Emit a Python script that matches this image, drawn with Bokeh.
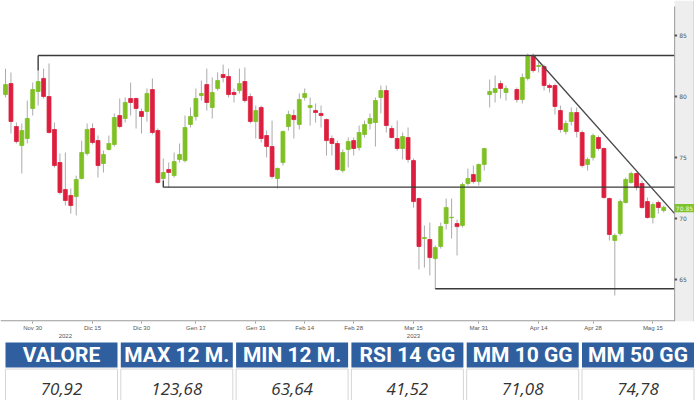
from bokeh.plotting import figure
from bokeh.models import Range1d, LinearAxis, FixedTicker, ColumnDataSource
from bokeh.layouts import column
from bokeh.embed import file_html
from bokeh.resources import INLINE
from bokeh.core.properties import value

# ---- data (trading-day slots; slot 93 has no session) ----
day_index = list(range(0, 93)) + list(range(94, 122))
opens = [80.16, 81.06, 77.54, 75.98, 76.56, 79.02, 80.41, 81.48, 80.00, 77.30,
         74.59, 72.38, 71.89, 71.80, 73.28, 75.33, 77.38, 76.39, 74.51, 75.66,
         76.07, 78.44, 78.20, 79.84, 79.84, 78.77, 78.77, 80.57, 77.21, 73.28,
         74.02, 73.52, 74.84, 74.75, 77.71, 78.36, 80.08, 80.98, 79.10, 80.66,
         81.80, 81.64, 80.33, 80.49, 81.23, 80.00, 77.95, 79.10, 76.80, 75.90,
         73.28, 74.59, 77.54, 78.44, 77.71, 79.92, 79.10, 78.85, 78.61, 78.11,
         76.56, 76.15, 73.93, 75.66, 76.39, 75.82, 76.89, 77.79, 77.87, 79.92,
         80.49, 77.38, 76.56, 75.74, 76.64, 74.75, 71.64, 68.36, 68.28, 66.72,
         67.71, 69.59, 70.07, 69.59, 69.43, 72.87, 73.61, 73.03, 74.43, 80.16,
         80.33, 81.06, 80.33,
         80.57, 79.75, 81.48, 83.36, 82.46, 82.46, 80.90, 80.90, 78.85, 77.13,
         77.95, 78.69, 77.05, 74.43, 75.00, 76.64, 75.74, 71.64, 68.20, 68.77,
         71.31, 72.95, 73.69, 72.87, 71.39, 70.08, 71.31, 70.66]
highs = [82.29, 81.97, 77.87, 77.79, 79.67, 81.15, 82.13, 82.29, 82.71, 77.87,
         75.33, 75.41, 72.46, 73.52, 76.39, 77.79, 77.79, 76.80, 75.57, 76.80,
         78.61, 79.84, 79.92, 81.15, 79.92, 79.02, 80.66, 81.48, 77.38, 74.92,
         74.59, 75.41, 76.15, 78.44, 79.10, 80.66, 81.31, 82.29, 81.56, 81.97,
         82.62, 82.29, 80.66, 82.29, 82.38, 80.25, 79.26, 79.26, 77.21, 78.03,
         74.18, 77.21, 78.85, 78.93, 80.25, 80.66, 79.92, 79.43, 79.26, 78.20,
         76.80, 76.39, 75.66, 76.64, 76.64, 77.62, 78.03, 78.61, 79.92, 80.90,
         80.90, 77.62, 78.03, 77.05, 77.46, 74.92, 71.72, 69.43, 69.67, 67.79,
         69.67, 71.64, 71.64, 69.92, 72.95, 74.10, 74.34, 74.51, 75.80, 81.39,
         81.72, 81.31, 80.90,
         80.74, 81.88, 83.52, 83.52, 82.87, 82.62, 81.06, 81.06, 79.26, 78.03,
         79.10, 79.10, 77.21, 75.00, 76.97, 76.80, 75.82, 71.72, 68.77, 71.56,
         73.36, 73.85, 73.77, 73.11, 71.72, 71.31, 71.48, 71.07]
lows = [79.92, 76.97, 76.15, 73.69, 76.15, 78.44, 79.26, 79.84, 76.97, 74.18,
        71.97, 71.07, 70.41, 70.25, 73.20, 75.16, 76.07, 73.36, 73.77, 75.57,
        75.90, 77.38, 77.87, 78.44, 77.38, 76.97, 77.95, 76.89, 72.87, 73.11,
        72.54, 73.36, 74.59, 74.59, 77.46, 78.03, 79.67, 78.85, 78.20, 80.49,
        81.15, 79.92, 79.51, 80.25, 79.51, 77.79, 76.56, 76.23, 75.00, 73.28,
        72.46, 74.34, 77.21, 76.56, 77.30, 79.67, 77.62, 77.87, 77.46, 75.16,
        75.16, 73.93, 73.77, 74.18, 75.16, 75.57, 76.64, 77.30, 75.90, 78.61,
        77.05, 76.56, 75.57, 74.84, 74.59, 70.90, 65.82, 65.98, 65.33, 64.26,
        67.54, 69.10, 68.36, 66.97, 69.26, 72.71, 72.87, 72.71, 73.93, 79.10,
        79.51, 79.84, 79.67,
        79.51, 79.43, 81.31, 81.97, 81.97, 80.49, 80.33, 78.52, 77.05, 76.89,
        77.62, 76.64, 74.18, 73.93, 74.75, 75.57, 71.64, 68.20, 63.69, 68.61,
        71.23, 72.87, 72.30, 70.82, 70.00, 69.59, 70.41, 70.49]
closes = [80.98, 77.95, 76.31, 77.21, 78.20, 80.57, 81.23, 80.00, 77.05, 74.34,
          72.13, 71.48, 71.07, 73.20, 75.41, 77.30, 76.23, 74.34, 75.25, 76.15,
          78.28, 77.54, 79.51, 79.51, 79.02, 78.36, 80.25, 77.05, 72.95, 73.77,
          73.77, 74.67, 75.25, 77.46, 78.36, 79.84, 80.25, 79.51, 80.33, 81.31,
          81.56, 80.16, 80.16, 81.06, 79.67, 77.95, 78.85, 76.56, 75.90, 73.44,
          74.10, 77.13, 78.52, 78.11, 79.75, 80.25, 79.26, 78.69, 78.44, 76.39,
          76.15, 74.02, 75.41, 76.31, 75.74, 77.05, 77.71, 78.20, 79.67, 80.49,
          77.62, 76.64, 75.74, 76.72, 74.84, 71.39, 67.71, 68.44, 66.80, 67.62,
          69.34, 70.90, 70.10, 69.34, 72.79, 73.28, 73.03, 74.43, 75.74, 80.41,
          80.66, 80.66, 80.66,
          79.75, 81.56, 83.28, 82.13, 82.54, 80.90, 80.74, 79.18, 77.30, 77.79,
          78.69, 77.13, 74.34, 74.84, 76.80, 75.74, 71.72, 68.69, 68.61, 71.39,
          73.20, 73.69, 72.54, 70.90, 70.08, 71.15, 70.90, 70.92]

# support / resistance levels: (start slot, level, anchor price)
level_start = [6, 29, 79]
level_value = [83.36, 72.57, 64.24]
level_anchor = [82.13, 73.11, 64.26]
# descending trend line
trend_x = [97, 123]
trend_y = [83.40, 70.40]

last_price = 70.85
last_price_label = "70.85"

x_tick_pos = [5, 16, 25, 35, 46, 55, 64, 75, 87, 98, 108, 119]
x_tick_labels = ["Nov 30", "Dic 15", "Dic 30", "Gen 17", "Gen 31", "Feb 14",
                 "Feb 28", "Mar 15", "Mar 31", "Apr 14", "Apr 28", "Mag 15"]
year_pos = [11, 75]
year_labels = ["2022", "2023"]
y_ticks = [65, 70, 75, 80, 85]

headers = ["VALORE", "MAX 12 M.", "MIN 12 M.", "RSI 14 GG", "MM 10 GG", "MM 50 GG"]
values = ["70,92", "123,68", "63,64", "41,52", "71,08", "74,78"]

# ---- chart ----
UP = "#7fc025"
DOWN = "#dc1f3e"
colors = [UP if c >= o else DOWN for o, c in zip(opens, closes)]
src = ColumnDataSource(dict(
    x=day_index, high=highs, low=lows,
    top=[max(o, c) for o, c in zip(opens, closes)],
    bottom=[min(o, c) for o, c in zip(opens, closes)],
    color=colors))

x_start = -0.92
x_end = 123.0          # right edge of the price area (price scale sits here)
x_max = 126.65
y_lo, y_hi = 61.56, 87.87
p = figure(width=694, height=340, x_range=Range1d(x_start, x_max),
           y_range=Range1d(y_lo, y_hi), output_backend="svg",
           toolbar_location=None, y_axis_location=None,
           min_border_left=0, min_border_top=0, min_border_right=0,
           min_border_bottom=19)
p.grid.visible = False
p.outline_line_color = None
p.background_fill_color = "white"
p.border_fill_color = "white"

# price-scale panel on the right
p.quad(left=[x_end], right=[126.47], top=[y_hi], bottom=[y_lo],
       fill_color="#eeeeee", line_color=None)
p.segment(x0=[126.47], y0=[y_lo], x1=[126.47], y1=[y_hi],
          line_color="#d8d8d8", line_width=1)

p.segment(x0="x", y0="high", x1="x", y1="low", source=src,
          line_color="#ababab", line_width=1)
p.vbar(x="x", width=0.72, top="top", bottom="bottom", source=src,
       fill_color="color", line_color="color", line_width=0.8)

p.segment(x0=level_start, y0=level_value, x1=[x_end] * 3, y1=level_value,
          line_color="#3a3a3a", line_width=1.4)
p.segment(x0=level_start, y0=level_value, x1=level_start, y1=level_anchor,
          line_color="#3a3a3a", line_width=1.4)
p.line(trend_x, trend_y, line_color="#4a4a4a", line_width=1.4)

# price scale: line, tick dots, labels, last-price tag
p.segment(x0=[x_end], y0=[y_lo], x1=[x_end], y1=[87.38],
          line_color="#9a9a9a", line_width=1)
p.segment(x0=[x_start], y0=[y_lo + 0.05], x1=[x_end], y1=[y_lo + 0.05],
          line_color="#9a9a9a", line_width=1.2)
p.segment(x0=[x_end] * len(y_ticks), y0=y_ticks,
          x1=[x_end + 0.45] * len(y_ticks), y1=y_ticks,
          line_color="#555555", line_width=2)
p.text(x=[x_end + 0.85] * len(y_ticks), y=y_ticks,
       text=[str(v) for v in y_ticks], text_align="left",
       text_baseline="middle", text_font_size="6px", text_color="#555555",
       text_font=value("DejaVu Sans"))
p.rect(x=[x_end + 1.8], y=[last_price], width=3.6, height=0.68,
       fill_color="#7dc42a", line_color=None)
p.text(x=[x_end + 1.8], y=[last_price], text=[last_price_label],
       text_align="center", text_baseline="middle", text_font_size="6px",
       text_color="#f4fbe8", text_font=value("DejaVu Sans"))

xa = p.xaxis[0]
xa.ticker = FixedTicker(ticks=x_tick_pos)
xa.major_label_overrides = {t: l for t, l in zip(x_tick_pos, x_tick_labels)}
xa.major_label_text_font_size = "6px"
xa.major_label_text_color = "#555555"
xa.major_label_standoff = 1
xa.major_tick_in = 0
xa.major_tick_out = 2
xa.minor_tick_out = 0
xa.minor_tick_in = 0
xa.axis_line_color = None
xa.major_tick_line_color = "#9a9a9a"

ya = LinearAxis(ticker=FixedTicker(ticks=year_pos),
                major_label_overrides={t: l for t, l in zip(year_pos, year_labels)})
ya.major_label_text_font_size = "6px"
ya.major_label_text_color = "#555555"
ya.major_label_standoff = 0
ya.major_tick_out = 0
ya.major_tick_in = 0
ya.minor_tick_out = 0
ya.minor_tick_in = 0
ya.axis_line_color = None
p.add_layout(ya, "below")

# ---- table ----
t = figure(width=700, height=60, x_range=Range1d(0, 700), y_range=Range1d(60, 0),
           output_backend="svg", toolbar_location=None, min_border=0)
t.axis.visible = False
t.grid.visible = False
t.outline_line_color = None
t.border_fill_color = "white"

cell_w = 112
step = 115.3
cx = [5 + cell_w / 2 + i * step for i in range(len(headers))]
t.rect(x=cx, y=[14.5] * 6, width=cell_w, height=25,
       fill_color="#2f5f9f", line_color=None)
t.rect(x=cx, y=[45] * 6, width=cell_w, height=33,
       fill_color="white", line_color="#d6d6d6", line_width=1)
t.text(x=cx, y=[14.5] * 6, text=headers, text_align="center",
       text_baseline="middle", text_font=value("Roboto"),
       text_font_style="bold", text_font_size="21px", text_color="white")
t.text(x=cx, y=[48] * 6, text=values, text_align="center",
       text_baseline="middle", text_font=value("Open Sans"),
       text_font_style="italic", text_font_size="17px", text_color="#333333")

layout = column(p, t, spacing=0)
open("out.html", "w").write(file_html(layout, INLINE))
